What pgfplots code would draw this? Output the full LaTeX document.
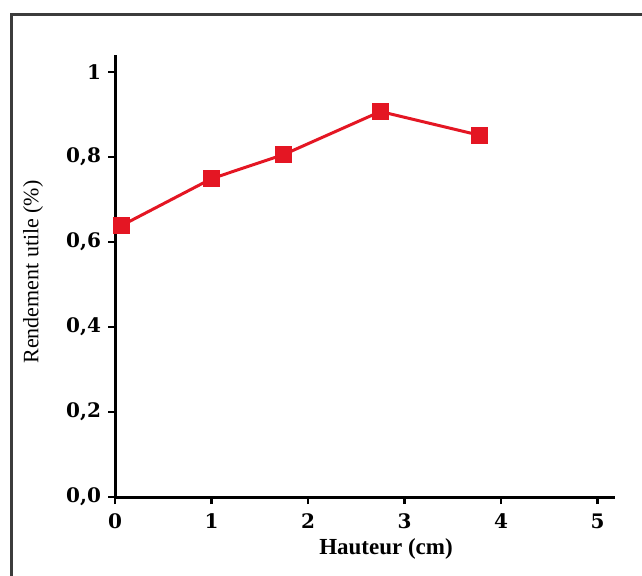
\documentclass[border=0pt]{standalone}
\usepackage{fontspec}
\setmainfont{Liberation Serif}
\newfontfamily\tickfont{DejaVu Serif}
\usepackage{pgfplots}
\pgfplotsset{compat=1.18}
\definecolor{dred}{RGB}{228,22,35}
\definecolor{framegray}{RGB}{60,60,60}
\begin{document}
\begin{tikzpicture}[x=1pt,y=1pt]
\useasboundingbox (0,0) rectangle (321,287.5);
\draw[framegray, line width=1.5pt] (5.5,-3) -- (5.5,280.5) -- (330,280.5);
\begin{axis}[
  at={(57.5pt,39pt)}, anchor=south west,
  scale only axis, width=250pt, height=221pt,
  xmin=0, xmax=5.18, ymin=0, ymax=1.04,
  axis x line*=bottom, axis y line*=left,
  axis line style={line width=1.5pt, black},
  xtick={0,1,2,3,4,5},
  ytick={0,0.2,0.4,0.6,0.8,1},
  yticklabels={{0,0},{0,2},{0,4},{0,6},{0,8},1},
  tick style={black, line width=1.2pt},
  tick align=outside, major tick length=3.5pt,
  ticklabel style={font=\fontsize{10}{12}\selectfont\tickfont\bfseries},
  xticklabel style={yshift=-1.5pt},
  /pgf/number format/assume math mode=true,
  xlabel={Hauteur (cm)},
  ylabel={Rendement utile (\%)},
  xlabel style={font=\fontsize{11.5}{13}\selectfont\bfseries, at={(axis description cs:0.542,-0.1176)}, anchor=center},
  ylabel style={font=\fontsize{11}{13}\selectfont, at={(axis description cs:-0.164,0.509)}, anchor=center},
  clip=false,
]
\addplot[dred, line width=1.5pt, mark=square*, mark size=4pt, mark options={fill=dred, draw=dred, line width=0.5pt}]
coordinates {(0.07,0.639) (1.0,0.749) (1.75,0.806) (2.75,0.907) (3.78,0.851)};
\end{axis}
\end{tikzpicture}
\end{document}
